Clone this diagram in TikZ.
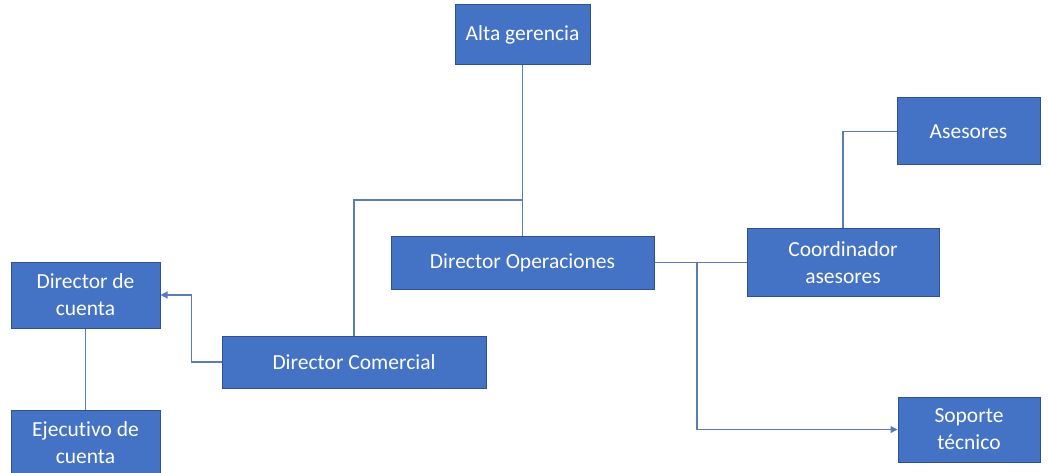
\documentclass[tikz,border=0pt]{standalone}
\usepackage{fontspec}
\setmainfont[Ligatures=NoCommon]{Carlito}
\usetikzlibrary{arrows.meta}
\definecolor{boxblue}{HTML}{4472C4}
\definecolor{boxedge}{HTML}{2F528F}
\definecolor{linkblue}{HTML}{5A7DBA}
\tikzset{
  box/.style={draw=boxedge,line width=1pt,fill=boxblue,text=white,align=center,inner sep=0pt,
    font=\fontsize{21.5}{27}\selectfont},
  link/.style={draw=linkblue,line width=1.2pt},
  arr/.style={link,-{Triangle[length=7pt,width=7pt]}}
}
\begin{document}
\begin{tikzpicture}[x=1pt,y=-1pt]
\useasboundingbox[fill=white] (0,0) rectangle (1048,473);
\node[box,minimum width=135pt,minimum height=60pt] (alta) at (522.5,35) {Alta gerencia};
\node[box,minimum width=263pt,minimum height=53pt] (dirop) at (522.5,262.5) {Director Operaciones};
\node[box,minimum width=264pt,minimum height=52pt] (dircom) at (354,362) {Director Comercial};
\node[box,minimum width=149pt,minimum height=66pt] (dircta) at (85.5,295) {Director de\\cuenta};
\node[box,minimum width=149pt,minimum height=66pt] (ejec) at (85.5,443) {Ejecutivo de\\cuenta};
\node[box,minimum width=192pt,minimum height=68pt] (coord) at (843,262.5) {Coordinador\\asesores};
\node[box,minimum width=143pt,minimum height=67pt] (ases) at (968.5,131.5) {Asesores};
\node[box,minimum width=142pt,minimum height=65pt] (sop) at (969,429.5) {Soporte\\técnico};

% connectors
\coordinate (split) at (522.5,200);
\coordinate (fork) at (697,262.5);
\draw[link] (alta) -- (dirop);
\draw[link] (split) -| (dircom.north);
\draw[arr] (dircom.west) -- ++(-30,0) |- (dircta.east);
\draw[link] (dircta) -- (ejec);
\draw[link] (dirop.east) -- (coord.west);
\draw[arr] (fork) |- (sop.west);
\draw[link] (coord.north) |- (ases.west);
\end{tikzpicture}
\end{document}
